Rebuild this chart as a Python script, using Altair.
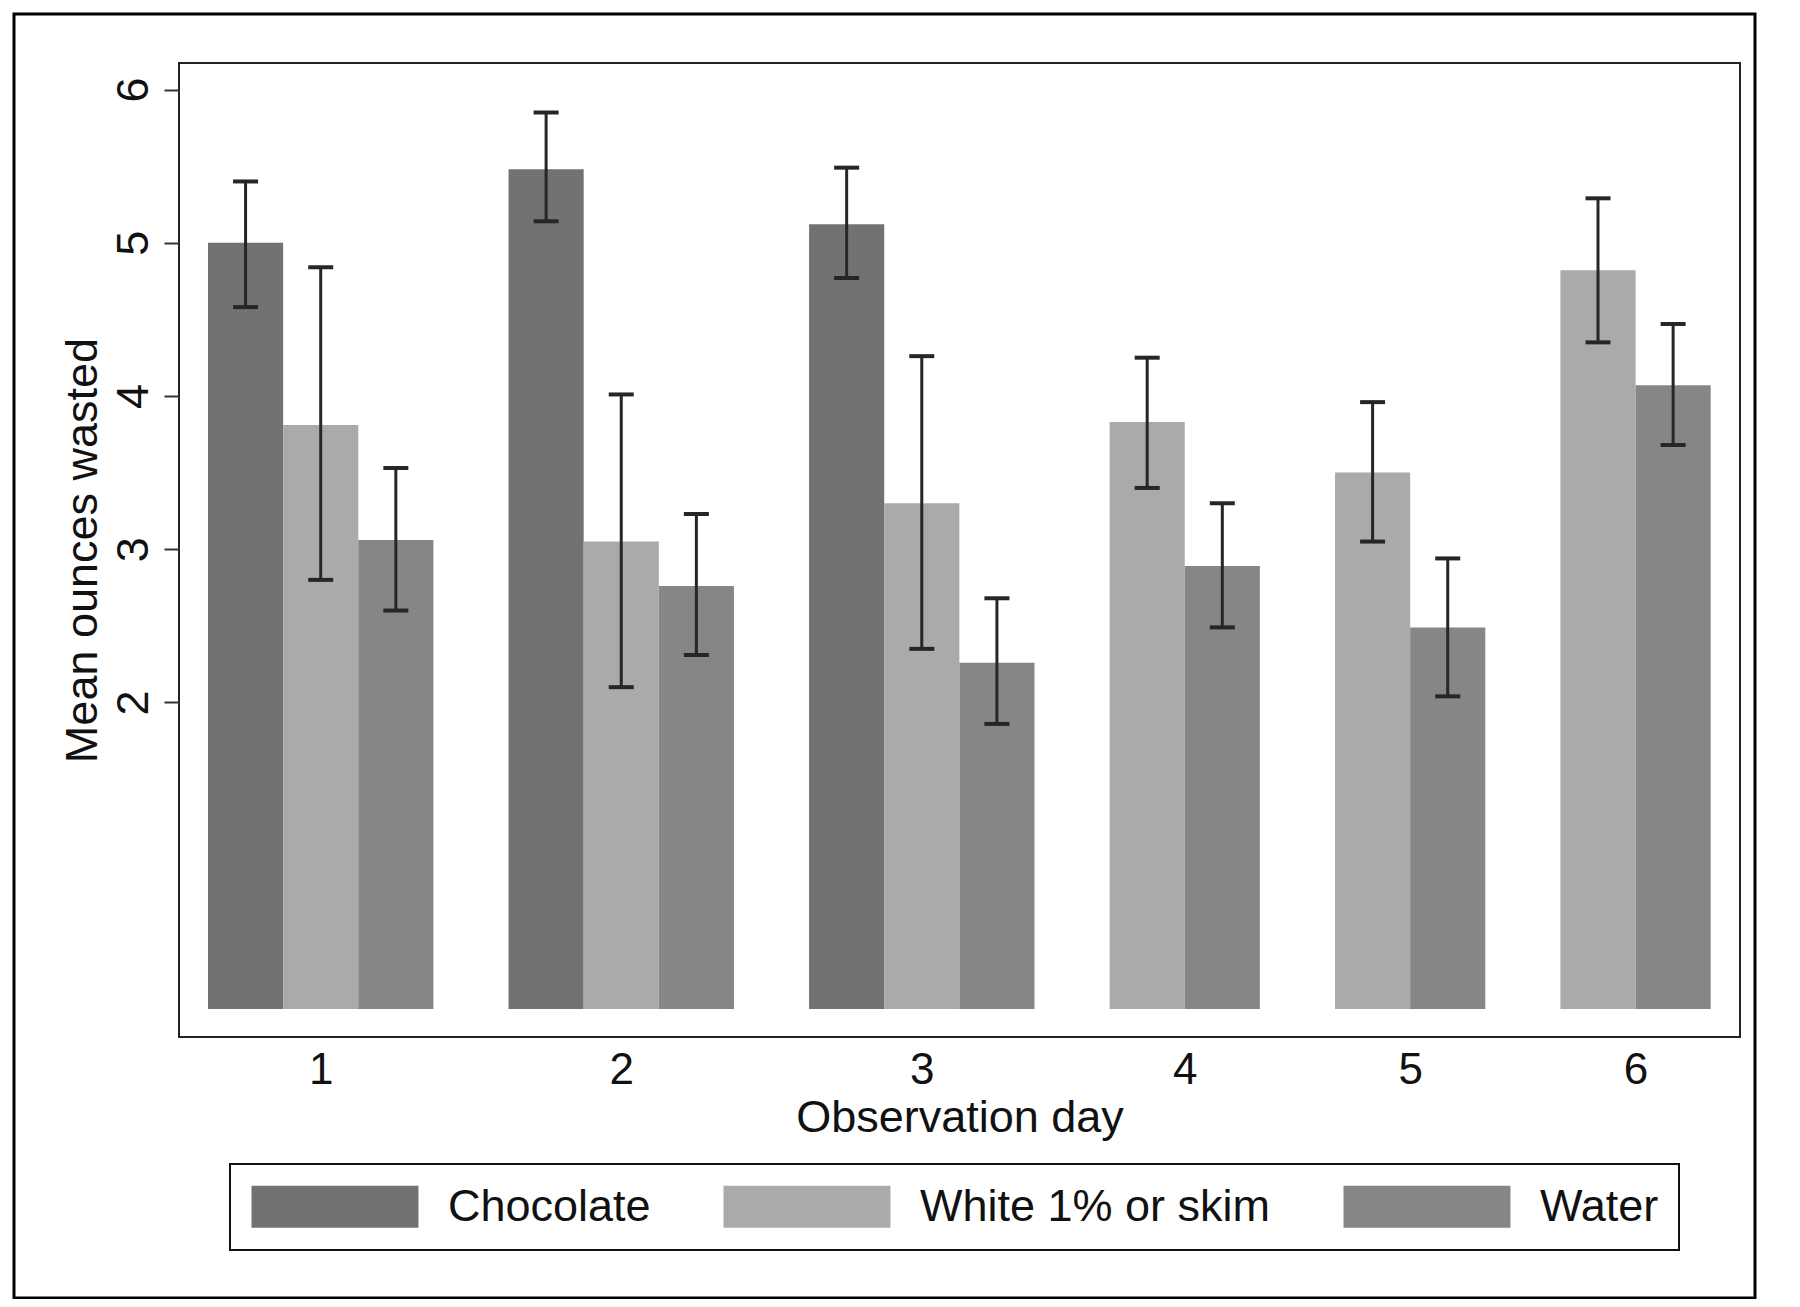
import json
import altair as alt
import pandas as pd

# ---- data ----
days = ["1", "2", "3", "4", "5", "6"]
series = ["Chocolate", "White 1% or skim", "Water"]
colors = ["#727272", "#aaaaaa", "#868686"]
y_ticks = [2, 3, 4, 5, 6]

choc_mean = [5.00, 5.48, 5.12, None, None, None]
choc_lo = [4.58, 5.14, 4.77, None, None, None]
choc_hi = [5.40, 5.85, 5.49, None, None, None]

white_mean = [3.81, 3.05, 3.30, 3.83, 3.50, 4.82]
white_lo = [2.80, 2.10, 2.35, 3.40, 3.05, 4.35]
white_hi = [4.84, 4.01, 4.26, 4.25, 3.96, 5.29]

water_mean = [3.06, 2.76, 2.26, 2.89, 2.49, 4.07]
water_lo = [2.60, 2.31, 1.86, 2.49, 2.04, 3.68]
water_hi = [3.53, 3.23, 2.68, 3.30, 2.94, 4.47]

tables = [
    (series[0], choc_mean, choc_lo, choc_hi),
    (series[1], white_mean, white_lo, white_hi),
    (series[2], water_mean, water_lo, water_hi),
]

rows = []
centers = []
slot = 0
for i, d in enumerate(days):
    start = slot
    for name, m, lo, hi in tables:
        if m[i] is None:
            continue
        rows.append(dict(day=d, series=name, mean=m[i], lo=lo[i], hi=hi[i],
                         x0=slot, x1=slot + 1, xc=slot + 0.5))
        slot += 1
    centers.append((start + slot) / 2)
    slot += 1  # gap between day groups
df = pd.DataFrame(rows)

FONT = "Liberation Sans"
TXT = "#111111"
W, H = 1561, 974

xscale = alt.Scale(domain=[-0.386, 20.39], nice=False, zero=False)
yscale = alt.Scale(domain=[-0.183, 6.173], nice=False, zero=False)

label_expr = f"{json.dumps(days)}[indexof({json.dumps(centers)}, datum.value)]"

x_axis = alt.Axis(values=centers, labelExpr=label_expr, title="Observation day",
                  ticks=False, tickSize=0, domain=False, grid=False,
                  labelFont=FONT, labelFontSize=44, labelColor=TXT,
                  labelBaseline="top", labelPadding=11, labelAngle=0,
                  titleFont=FONT, titleFontSize=45, titleColor=TXT, titleFontWeight="normal",
                  titleX=W / 2, titleY=94, titleBaseline="alphabetic", titleAlign="center")

y_axis = alt.Axis(values=y_ticks, format="d", title="Mean ounces wasted",
                  domain=False, grid=False, ticks=True, tickSize=15, tickWidth=2,
                  tickColor="#333333",
                  labelFont=FONT, labelFontSize=45, labelColor=TXT,
                  labelAngle=270, labelAlign="center", labelBaseline="bottom",
                  labelPadding=8,
                  titleFont=FONT, titleFontSize=45, titleColor=TXT, titleFontWeight="normal",
                  titleAngle=270, titleX=-83, titleY=H / 2, titleAlign="center",
                  titleBaseline="alphabetic")

legend = alt.Legend(title=None, orient="none", legendX=51, legendY=1101,
                    direction="horizontal", columns=3,
                    symbolType="M-1,-1H6.95V1H-1Z", symbolSize=1764,
                    symbolStrokeWidth=0, symbolOpacity=1,
                    labelOffset=153, columnPadding=71, padding=20,
                    strokeColor="#111111",
                    labelFont=FONT, labelFontSize=45, labelColor=TXT, labelLimit=0)

base = alt.Chart(df)

bars = base.mark_bar(stroke=None).encode(
    x=alt.X("x0:Q", scale=xscale, axis=x_axis),
    x2="x1:Q",
    y=alt.Y("mean:Q", scale=yscale, axis=y_axis),
    y2=alt.datum(0),
    color=alt.Color("series:N", scale=alt.Scale(domain=series, range=colors), legend=legend),
)

err = base.mark_rule(color="#262626", strokeWidth=3).encode(
    x="xc:Q", y="lo:Q", y2="hi:Q"
)
cap_lo = base.mark_tick(orient="horizontal", size=25, thickness=4, color="#262626", opacity=1).encode(
    x="xc:Q", y="lo:Q"
)
cap_hi = base.mark_tick(orient="horizontal", size=25, thickness=4, color="#262626", opacity=1).encode(
    x="xc:Q", y="hi:Q"
)

frame = alt.Chart(pd.DataFrame({"a": [0]})).mark_rect(
    fillOpacity=0, stroke="#000000", strokeWidth=3
).encode(
    x=alt.value(-165), x2=alt.value(1576), y=alt.value(-49), y2=alt.value(1235)
)

chart = alt.layer(bars, err, cap_lo, cap_hi, frame).properties(
    width=W, height=H,
    autosize=alt.AutoSizeParams(type="none"),
    padding={"left": 171, "top": 55, "right": 52, "bottom": 262},
    background="white",
).configure_view(
    stroke="#222222", strokeWidth=2
).configure_legend(
    strokeWidth=2
)

chart.save("out.html", embed_options={"renderer": "svg", "actions": False})
